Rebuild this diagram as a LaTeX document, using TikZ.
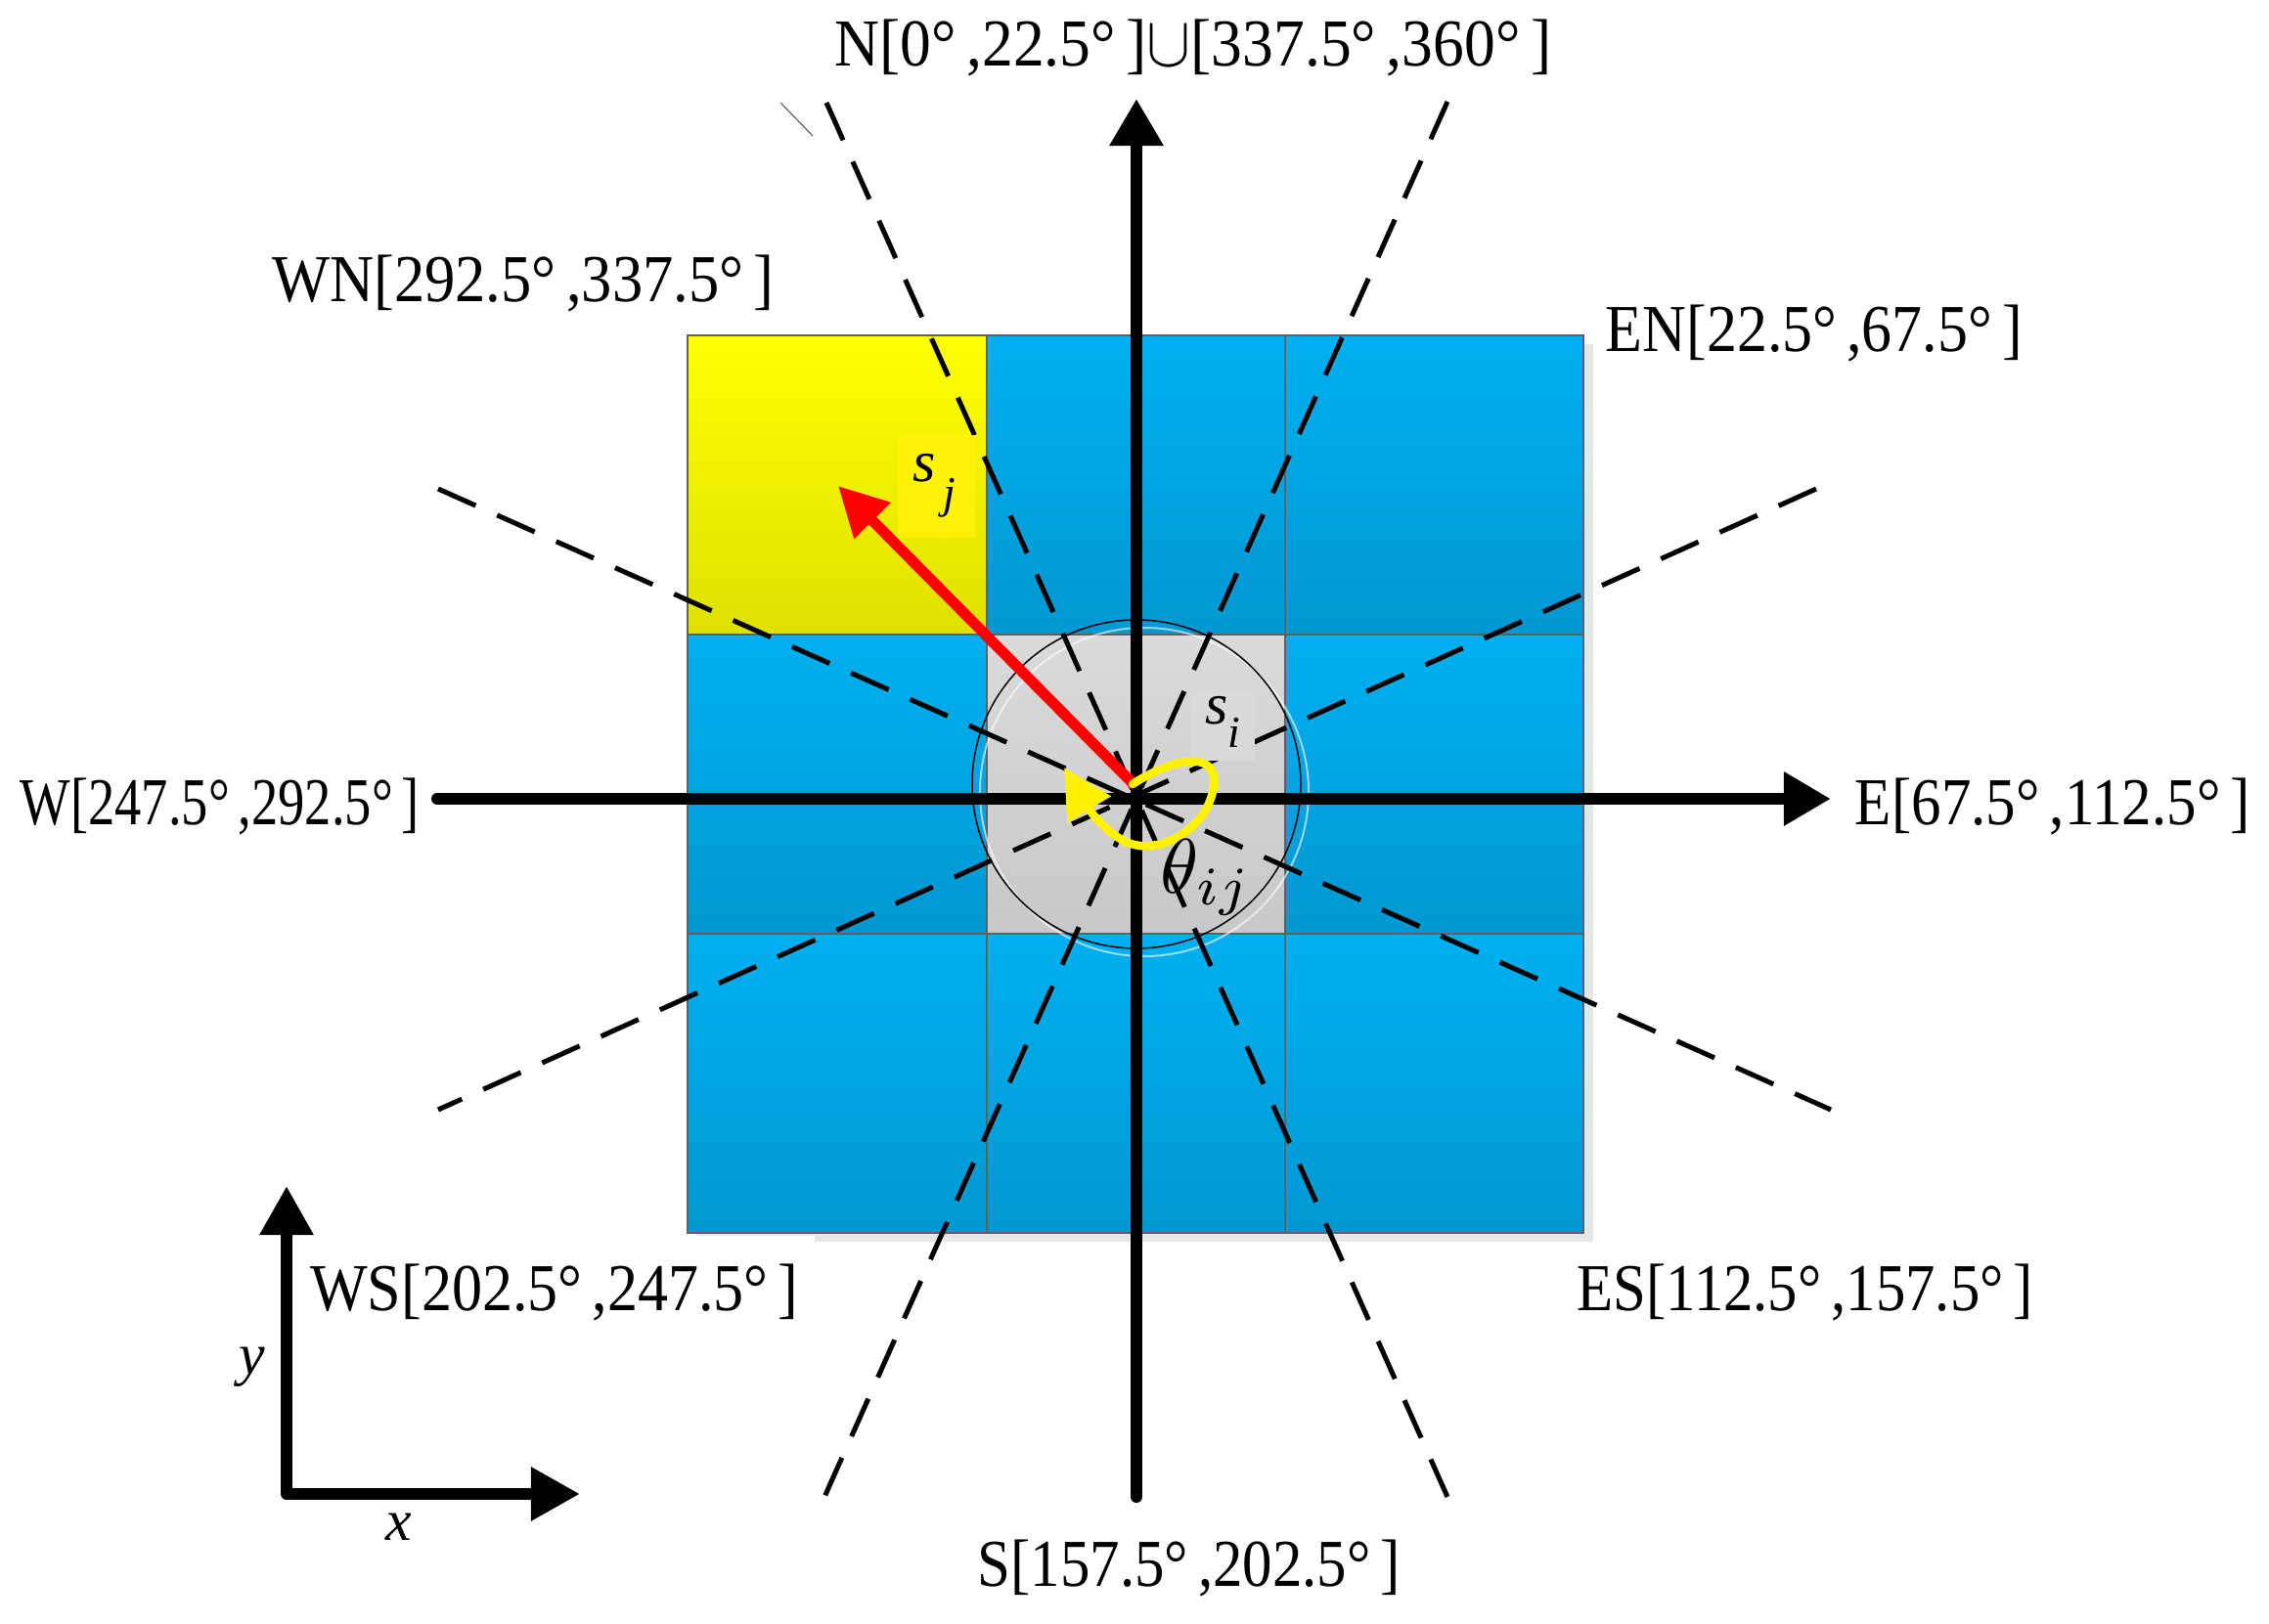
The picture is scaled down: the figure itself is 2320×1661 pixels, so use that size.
\documentclass[tikz,border=0pt]{standalone}
\usepackage{fontspec}
\setmainfont{Liberation Serif}
\usetikzlibrary{arrows.meta}
\definecolor{blueT}{RGB}{0,176,240}
\definecolor{blueB}{RGB}{0,152,210}
\definecolor{grayT}{RGB}{218,218,218}
\definecolor{grayB}{RGB}{200,200,200}
\definecolor{yelT}{RGB}{255,255,0}
\definecolor{yelB}{RGB}{224,224,0}
\definecolor{cellline}{RGB}{96,96,96}
\definecolor{shadowc}{RGB}{230,230,230}
\newcommand{\lbltxt}[2]{\resizebox{#1}{\height}{#2}}
\begin{document}
\begin{tikzpicture}[x=0.01cm,y=-0.01cm,
  lab/.style={inner sep=0pt, font=\fontsize{19.5}{21}\selectfont},
  axisline/.style={line width=0.12cm, line cap=round, line join=round},
  bigtip/.style={-{Triangle[length=0.48cm,width=0.52cm]}},
  sector/.style={line width=0.05cm, dash pattern=on 0.42cm off 0.24cm},
  cellframe/.style={draw=cellline, line width=0.02cm}]
\useasboundingbox (0,0) rectangle (2320,1661);
\fill[white] (0,0) rectangle (2320,1661);
% shadow of the grid
\fill[shadowc] (833,352) rectangle (1629,1270);
\fill[shadowc] (712,1261) rectangle (833,1264);
% cells
\foreach \xa/\xb in {703/1009,1009/1314,1314/1619}{
  \foreach \ya/\yb in {343/649,649/955,955/1261}{
    \shade[top color=blueT,bottom color=blueB] (\xa,\ya) rectangle (\xb,\yb);
  }
}
\shade[top color=yelT,bottom color=yelB] (703,343) rectangle (1009,649);
\shade[top color=grayT,bottom color=grayB] (1009,649) rectangle (1314,955);
\foreach \xa/\xb in {703/1009,1009/1314,1314/1619}{
  \foreach \ya/\yb in {343/649,649/955,955/1261}{
    \draw[cellframe] (\xa,\ya) rectangle (\xb,\yb);
  }
}
% circles
\draw[white, opacity=0.6, line width=0.02cm] (1170,810) circle (168);
\draw[black, line width=0.015cm] (1162,802) circle (168);
% sector boundaries
\coordinate (d1a) at (845,105);  \coordinate (d1b) at (1480,1531);
\coordinate (d2a) at (1480,104); \coordinate (d2b) at (843,1531);
\coordinate (d3a) at (448,500);  \coordinate (d3b) at (1872,1135);
\coordinate (d4a) at (1857,500); \coordinate (d4b) at (448,1135);
\draw[sector] (d1a) -- (d1b);
\draw[sector] (d2a) -- (d2b);
\draw[sector] (d3a) -- (d3b);
\draw[sector] (d4a) -- (d4b);
\coordinate (art1) at (798,105); \coordinate (art2) at (831,139);
\draw[black!70, line width=0.01cm] (art1) -- (art2);
% main axes
\coordinate (O) at (1162,817);
\coordinate (Ntip) at (1162,101);
\coordinate (Sbot) at (1162,1531);
\coordinate (Wend) at (447,817);
\coordinate (Etip) at (1872,817);
\draw[axisline, bigtip] (Sbot) -- (Ntip);
\draw[axisline, bigtip] (Wend) -- (Etip);
% label boxes
\fill[yellow!97!white] (918,445) rectangle (997,550);
\fill[gray!30] (1218,707) rectangle (1283,778);
% red arrow s_i -> s_j
\coordinate (ci) at (1160,803);
\coordinate (cj) at (857,497);
\draw[red, line width=0.11cm, -{Triangle[length=0.5cm,width=0.5cm]}] (ci) -- (cj);
% yellow angle arrow
\coordinate (ys) at (1158,802);
\coordinate (ye) at (1088,785);
\draw[yellow, line width=0.085cm, line cap=round, -{Triangle[length=0.5cm,width=0.5cm]}]
  (ys) .. controls (1195,778) and (1242,765) .. (1241,800)
       .. controls (1240,840) and (1195,872) .. (1160,864)
       .. controls (1140,860) and (1118,835) .. (ye);
% small axes
\coordinate (c0) at (293,1528);
\coordinate (cy) at (293,1213);
\coordinate (cx) at (593,1528);
\draw[axisline, {Triangle[length=0.5cm,width=0.52cm]}-{Triangle[length=0.5cm,width=0.52cm]}] (cy) -- (c0) -- (cx);
\node[inner sep=0pt, font=\fontsize{17}{19}\selectfont\itshape] (ly) at (258,1398) {y};
\node[inner sep=0pt, font=\fontsize{17}{19}\selectfont\itshape] (lx) at (408,1562) {x};
% symbols
\node[inner sep=0pt, font=\fontsize{17}{19}\selectfont\itshape] (sj) at (955,497) {s\raisebox{-0.45em}{\fontsize{13}{13}\selectfont\,j}};
\node[inner sep=0pt, font=\fontsize{17}{19}\selectfont\itshape] (si) at (1250,738) {s\raisebox{-0.4em}{\fontsize{13}{13}\selectfont i}};
\node[inner sep=0pt] (th) at (1233,897) {\scalebox{2.25}{$\theta_{ij}$}};
% direction labels
\node[lab] (lN) at (1220,49) {\lbltxt{7.32cm}{N[0°\,,22.5°\,]$\cup$[337.5°\,,360°\,]}};
\node[lab] (lWN) at (535,290) {\lbltxt{5.13cm}{WN[292.5°\,,337.5°\,]}};
\node[lab] (lEN) at (1855,341) {\lbltxt{4.26cm}{EN[22.5°\,,67.5°\,]}};
\node[lab] (lW) at (225,825) {\lbltxt{4.08cm}{W[247.5°\,,292.5°\,]}};
\node[lab] (lE) at (2099,825) {\lbltxt{4.04cm}{E[67.5°\,,112.5°\,]}};
\node[lab] (lWS) at (567,1322) {\lbltxt{4.99cm}{WS[202.5°\,,247.5°\,]}};
\node[lab] (lES) at (1846,1322) {\lbltxt{4.66cm}{ES[112.5°\,,157.5°\,]}};
\node[lab] (lS) at (1216,1604) {\lbltxt{4.32cm}{S[157.5°\,,202.5°\,]}};
\end{tikzpicture}
\end{document}
